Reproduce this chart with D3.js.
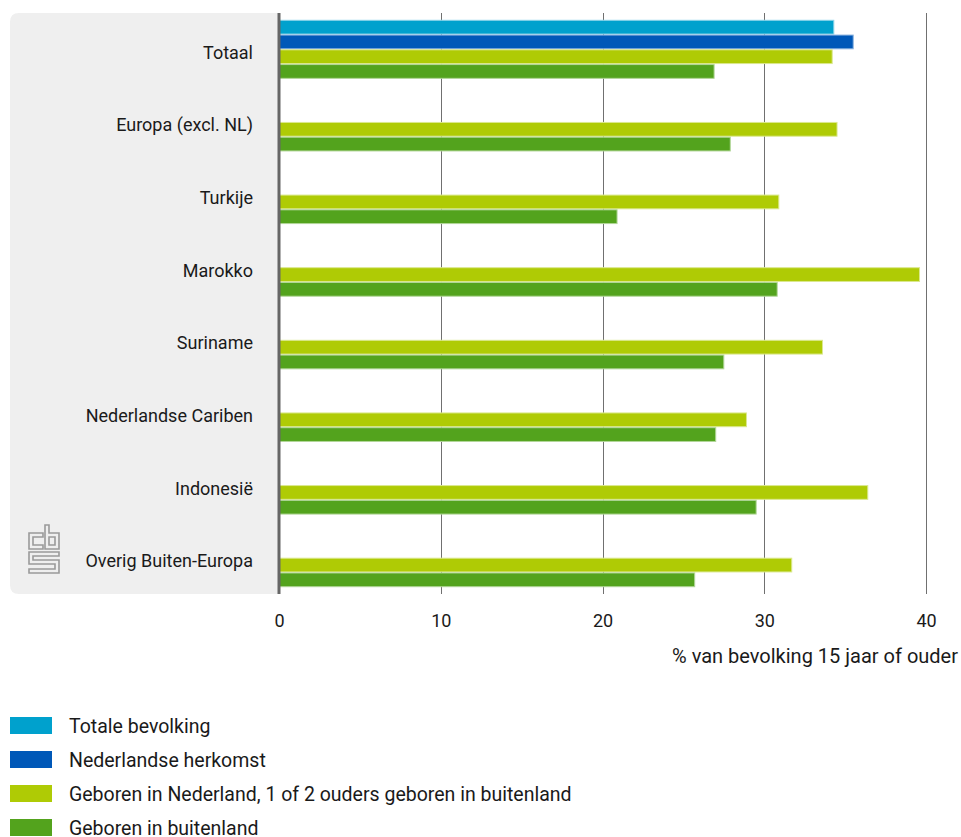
<!DOCTYPE html>
<html>
<head>
<meta charset="utf-8">
<script src="https://cdn.jsdelivr.net/npm/d3@7"></script>
<style>
  html, body { margin: 0; padding: 0; background: #fff; }
  svg { display: block; font-family: Roboto, "Noto Sans", sans-serif; }
</style>
</head>
<body>
<svg id="chart" width="961" height="837"></svg>
<script>
// ---- data ----
const categories = ["Totaal", "Europa (excl. NL)", "Turkije", "Marokko", "Suriname",
  "Nederlandse Cariben", "Indonesië", "Overig Buiten-Europa"];
const seriesNames = ["Totale bevolking", "Nederlandse herkomst",
  "Geboren in Nederland, 1 of 2 ouders geboren in buitenland", "Geboren in buitenland"];
const seriesColors = ["#00a1cd", "#0058b8", "#afcb05", "#53a31d"];
const totaleBevolking      = [34.3, null, null, null, null, null, null, null];
const nederlandseHerkomst  = [35.5, null, null, null, null, null, null, null];
const geborenNL            = [34.2, 34.5, 30.9, 39.6, 33.6, 28.9, 36.4, 31.7];
const geborenBuitenland    = [26.9, 27.9, 20.9, 30.8, 27.5, 27.0, 29.5, 25.7];
const xTicks = [0, 10, 20, 30, 40];
const axisTitle = "% van bevolking 15 jaar of ouder";

const seriesValues = [totaleBevolking, nederlandseHerkomst, geborenNL, geborenBuitenland];

// ---- layout ----
const svg = d3.select("#chart");
const plotTop = 13, plotBottom = 594;
const x = d3.scaleLinear().domain([0, 40]).range([279, 926]);
const y0 = d3.scaleBand().domain(categories).range([plotTop, plotBottom]).paddingInner(0).paddingOuter(0);
const y1 = d3.scaleBand().domain(d3.range(seriesNames.length)).range([0, y0.bandwidth()])
  .paddingInner(0).paddingOuter(0.46);

// panel background with rounded left corners
const px0 = 10, px1 = x(0), rr = 9;
svg.append("path")
  .attr("d", `M${px1},${plotTop} H${px0 + rr} Q${px0},${plotTop} ${px0},${plotTop + rr} V${plotBottom - rr} Q${px0},${plotBottom} ${px0 + rr},${plotBottom} H${px1} Z`)
  .attr("fill", "#efefef");

// gridlines
svg.append("g").selectAll("line").data(xTicks.filter(d => d > 0)).join("line")
  .attr("x1", d => Math.round(x(d)) + 0.5).attr("x2", d => Math.round(x(d)) + 0.5)
  .attr("y1", plotTop).attr("y2", plotBottom)
  .attr("stroke", "#707070").attr("stroke-width", 1);

// bars
const groups = svg.append("g").selectAll("g").data(categories).join("g")
  .attr("transform", d => `translate(0,${y0(d)})`);
groups.selectAll("rect")
  .data((c, i) => seriesValues.map((vals, s) => ({ s, v: vals[i] })).filter(d => d.v != null))
  .join("rect")
  .attr("x", x(0))
  .attr("y", d => y1(d.s) + 0.5)
  .attr("width", d => x(d.v) - x(0))
  .attr("height", y1.bandwidth() - 1)
  .attr("fill", d => seriesColors[d.s])
  .attr("stroke", d => d3.interpolateRgb(seriesColors[d.s], "#fff")(0.55))
  .attr("stroke-width", 1);

// axis line at 0
svg.append("line")
  .attr("x1", x(0)).attr("x2", x(0)).attr("y1", plotTop).attr("y2", plotBottom)
  .attr("stroke", "#666").attr("stroke-width", 3);

// category labels
svg.append("g").selectAll("text").data(categories).join("text")
  .attr("x", 253)
  .attr("y", d => y0(d) + y0.bandwidth() / 2 + 3)
  .attr("text-anchor", "end").attr("dominant-baseline", "central")
  .attr("font-size", 18).attr("fill", "#1a1a1a")
  .text(d => d);

// x tick labels
const xAxis = d3.axisBottom(x).tickValues(xTicks).tickSize(0).tickPadding(0);
const gx = svg.append("g").attr("transform", `translate(0,${plotBottom + 18})`).call(xAxis);
gx.select(".domain").remove();
gx.selectAll("text").attr("font-size", 18).attr("fill", "#1a1a1a")
  .attr("font-family", "Roboto, 'Noto Sans', sans-serif").attr("dy", "0.85em");

// axis title
svg.append("text")
  .attr("x", 958).attr("y", 663)
  .attr("text-anchor", "end")
  .attr("font-size", 20).attr("fill", "#1a1a1a")
  .text(axisTitle);

// logo (cbs)
const logo = svg.append("g").attr("transform", "translate(29,525)")
  .attr("fill", "none").attr("stroke", "#9a9a9a").attr("stroke-width", 1.6);
logo.append("path").attr("d", "M14,8 H0 V24 H14 V20 H4 V12 H14 Z");
logo.append("path").attr("d", "M16,0 H20 V8 H30 V24 H16 Z");
logo.append("path").attr("d", "M20,12 H26 V20 H20 Z");
logo.append("path").attr("d", "M30,27 H0 V39 H26 V44 H0 V48 H30 V35 H4 V31 H30 Z");

// legend
const legend = svg.append("g").selectAll("g").data(seriesNames).join("g")
  .attr("transform", (d, i) => `translate(10,${717 + i * 34})`);
legend.append("rect")
  .attr("width", 42).attr("height", 17)
  .attr("fill", (d, i) => seriesColors[i]);
legend.append("text")
  .attr("x", 59).attr("y", 9)
  .attr("dominant-baseline", "central")
  .attr("font-size", 19.5).attr("fill", "#1a1a1a")
  .text(d => d);
</script>
</body>
</html>
